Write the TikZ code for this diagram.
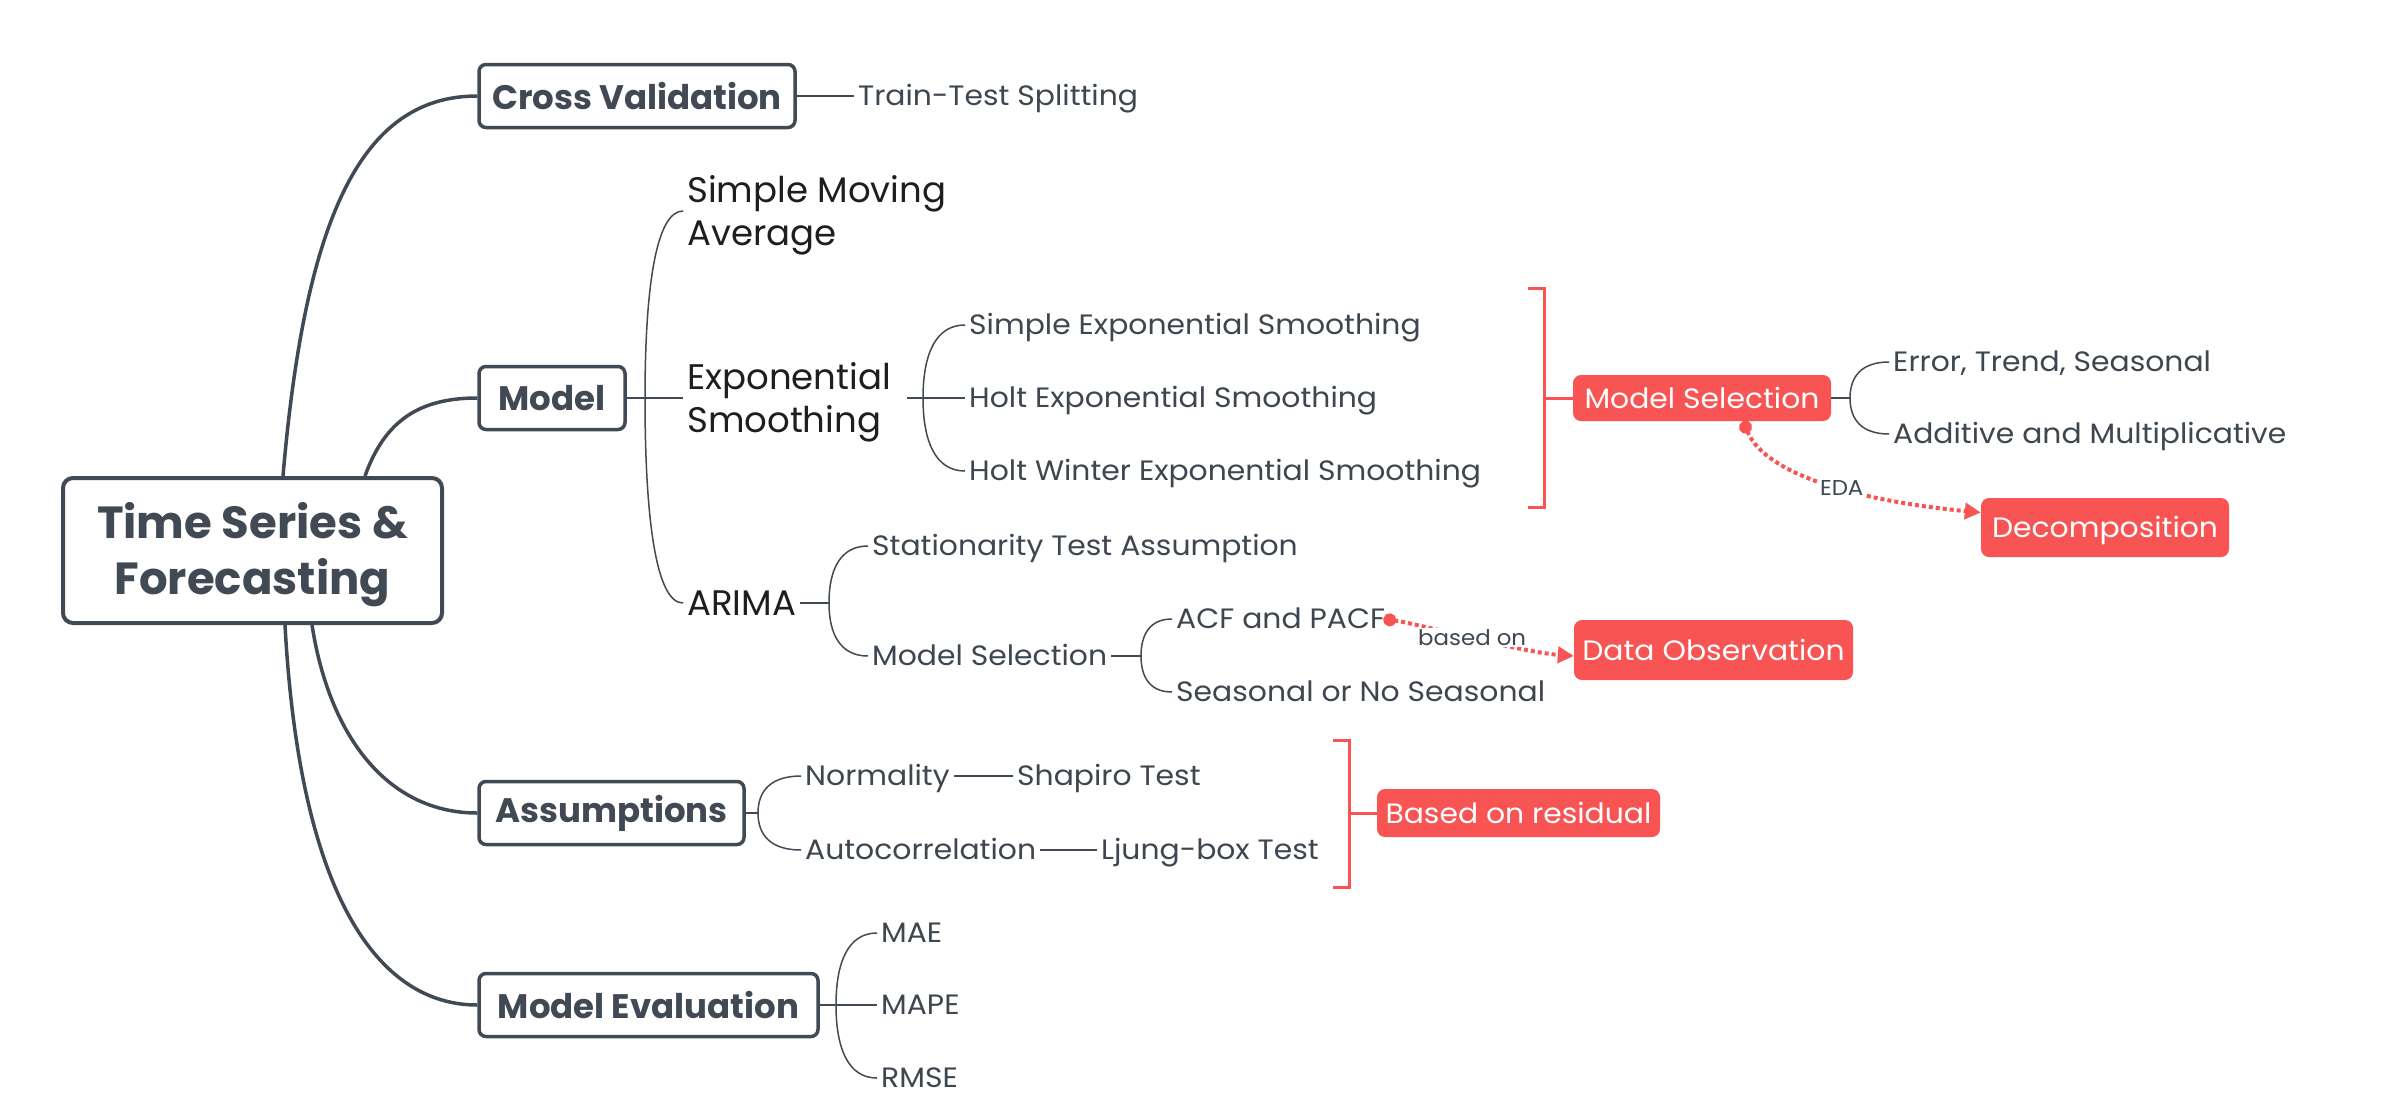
\documentclass[tikz,border=0pt]{standalone}
\usepackage{fontspec}
\setmainfont{Poppins}
\newfontfamily\reg{Poppins}[FakeStretch=1.065]
\usetikzlibrary{calc,arrows.meta}
\definecolor{dk}{HTML}{414A54}
\definecolor{txt}{HTML}{3E4650}
\definecolor{blk}{HTML}{1E1E1E}
\definecolor{rd}{HTML}{F85454}
\newcommand\fs[2]{\fontsize{#1}{#2}\selectfont}
\newcommand\bcurve[2]{\draw[twig] (#1) .. controls ($(#1)!0.6!(#1 |- #2.west)$) and ($(#2.west)!0.7!(#1 |- #2.west)$) .. (#2.west);}
\newcommand\lowered[3]{\raisebox{-#1}[\height][\depth]{\begin{tabular}{@{}#2@{}}#3\end{tabular}}}
\begin{document}
\begin{tikzpicture}[x=1pt,y=-1pt,
  root/.style={draw=dk, line width=4pt, rounded corners=10pt, minimum width=379pt, minimum height=145pt, text=dk, font=\fs{45}{56}\bfseries, inner sep=0pt},
  topic/.style={draw=dk, line width=3.5pt, rounded corners=7pt, minimum height=63pt, text=dk, font=\fs{34}{40}\bfseries, inner sep=0pt},
  leaf/.style={text=txt, font=\reg\fs{28}{34}, inner xsep=4pt, inner ysep=2pt, text height=19.6pt, text depth=0pt, anchor=west},
  big/.style={text=blk, font=\fs{35.5}{43}, inner xsep=4pt, inner ysep=2pt, anchor=west},
  redbox/.style={fill=rd, text=white, rounded corners=8pt, font=\reg\fs{28}{34}, text height=20pt, text depth=0pt, inner sep=0pt},
  main/.style={draw=dk, line width=3.5pt},
  twig/.style={draw=dk, line width=1.5pt},
  redline/.style={draw=rd, line width=3pt},
  rel/.style={draw=rd, line width=4pt, dash pattern=on 4pt off 3pt, {Circle[length=13pt]}-{Triangle[length=16pt,width=16pt]}},
  lbl/.style={fill=white, text=txt, font=\reg\fs{21.5}{24}, text height=15pt, text depth=0pt, inner sep=2pt}]
\useasboundingbox (0,0) rectangle (2385,1117);
\fill[white] (0,0) rectangle (2385,1117);

% root and main topics
\node[root] (root) at (252.5,550.5) {\lowered{4.5pt}{c}{Time Series \&\\Forecasting}};
\node[topic, minimum width=316pt] (cv) at (637,96) {Cross Validation};
\node[topic, minimum width=146pt] (model) at (552,398) {Model};
\node[topic, minimum width=265pt] (assm) at (611.5,813) {Assumptions};
\node[topic, minimum width=339pt] (meval) at (648.5,1005) {Model Evaluation};

\draw[main] ([xshift=30.5pt]root.north) .. controls (305,220) and (360,96) .. (cv.west);
\draw[main] ([xshift=112.5pt]root.north) .. controls (385,420) and (420,398) .. (model.west);
\draw[main] ([xshift=59.5pt]root.south) .. controls (330,740) and (390,813) .. (assm.west);
\draw[main] ([xshift=32.5pt]root.south) .. controls (300,900) and (380,1005) .. (meval.west);

% cross validation
\node[leaf] (tts) at (854,96) {Train-Test Splitting};
\draw[twig] (cv.east) -- (tts.west);

% model
\node[big] (sma) at (683,211) {\lowered{4.5pt}{l}{Simple Moving\\Average}};
\node[big] (es) at (683,398) {\lowered{4.5pt}{l}{Exponential\\Smoothing}};
\node[big, text height=25pt, text depth=0pt] (arima) at (683,603) {ARIMA};
\coordinate (jm) at (645,398);
\draw[twig] (model.east) -- (es.west);
\bcurve{jm}{sma}
\bcurve{jm}{arima}

% exponential smoothing
\coordinate (jes) at (923,398);
\node[leaf] (ses) at (965,325) {Simple Exponential Smoothing};
\node[leaf] (hes) at (965,398) {Holt Exponential Smoothing};
\node[leaf] (hwes) at (965,471) {Holt Winter Exponential Smoothing};
\draw[twig] ([xshift=12pt]es.east) -- (hes.west);
\bcurve{jes}{ses}
\bcurve{jes}{hwes}

% arima
\coordinate (ja) at (829,603);
\node[leaf] (sta) at (868,546) {Stationarity Test Assumption};
\node[leaf] (msg) at (868,656) {Model Selection};
\draw[twig] (arima.east) -- (ja);
\bcurve{ja}{sta}
\bcurve{ja}{msg}

\coordinate (jmg) at (1141,656);
\node[leaf] (acf) at (1172,619) {ACF and PACF};
\node[leaf] (sea) at (1172,692) {Seasonal or No Seasonal};
\draw[twig] (msg.east) -- (jmg);
\bcurve{jmg}{acf}
\bcurve{jmg}{sea}

% red model selection
\node[redbox, minimum width=258pt, minimum height=46pt] (msr) at (1702,398) {Model Selection};
\draw[redline] (1528,288) -- (1544,288) -- (1544,507) -- (1528,507);
\coordinate (brk1) at (1544,398);
\draw[redline] (brk1) -- (msr.west);
\coordinate (jmr) at (1850,398);
\node[leaf] (ets) at (1889,362) {Error, Trend, Seasonal};
\node[leaf] (am) at (1889,434) {Additive and Multiplicative};
\draw[twig] (msr.east) -- (jmr);
\bcurve{jmr}{ets}
\bcurve{jmr}{am}

\node[redbox, minimum width=248pt, minimum height=59pt] (dec) at (2105,527.5) {Decomposition};
\draw[rel] ([xshift=41pt]msr.south) .. controls (1770,485) and (1900,505) .. node[lbl]{EDA} ([yshift=15pt]dec.west);

\node[redbox, minimum width=279pt, minimum height=60pt] (dobs) at (1713.5,650) {Data Observation};
\draw[rel] ([xshift=-6pt]acf.east) .. controls (1420,624) and (1520,652) .. node[lbl]{based on} ([yshift=-6pt]dobs.west);

% assumptions
\coordinate (jas) at (758,813);
\node[leaf] (norm) at (801,776) {Normality};
\node[leaf] (auto) at (801,850) {Autocorrelation};
\node[leaf] (shap) at (1013,776) {Shapiro Test};
\node[leaf] (ljung) at (1097,850) {Ljung-box Test};
\draw[twig] (assm.east) -- (jas);
\bcurve{jas}{norm}
\bcurve{jas}{auto}
\draw[twig] (norm.east) -- (shap.west);
\draw[twig] (auto.east) -- (ljung.west);

\node[redbox, minimum width=283pt, minimum height=48pt] (bor) at (1518.5,813) {Based on residual};
\draw[redline] (1333,740) -- (1349,740) -- (1349,887) -- (1333,887);
\coordinate (brk2) at (1349,813);
\draw[redline] (brk2) -- (bor.west);

% model evaluation
\coordinate (jme) at (836,1005);
\node[leaf] (mae) at (877,933) {MAE};
\node[leaf] (mape) at (877,1005) {MAPE};
\node[leaf] (rmse) at (877,1078) {RMSE};
\draw[twig] (meval.east) -- (mape.west);
\bcurve{jme}{mae}
\bcurve{jme}{rmse}
\end{tikzpicture}
\end{document}
